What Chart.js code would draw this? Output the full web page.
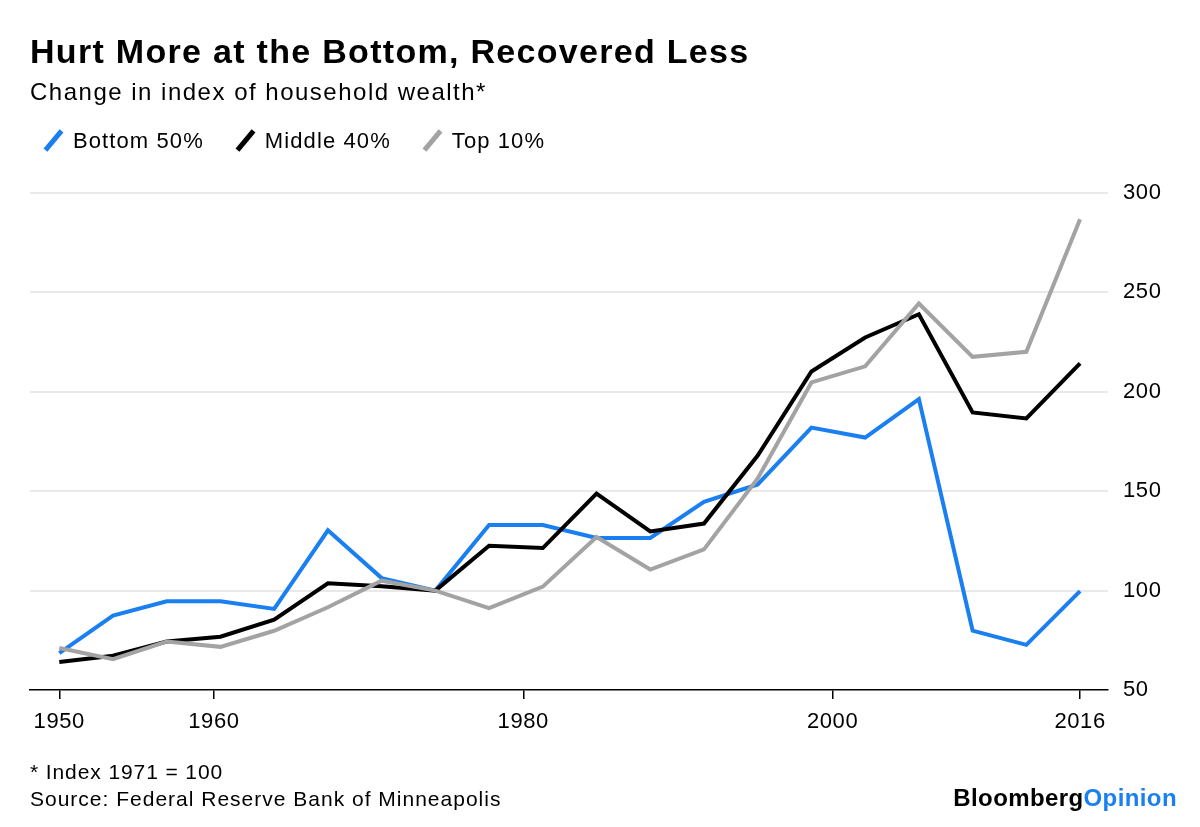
<!DOCTYPE html>
<html>
<head>
<meta charset="utf-8">
<script src="https://cdn.jsdelivr.net/npm/chart.js@4/dist/chart.umd.min.js"></script>
<style>
  body{margin:0;background:#fff;font-family:"Liberation Sans",Arial,sans-serif;color:#000;}
  #wrap{position:relative;width:1200px;height:827px;overflow:hidden;}
  #chart{position:absolute;left:0;top:0;}
  .txt{position:absolute;left:30px;white-space:nowrap;line-height:1;}
  #title{top:34px;font-size:34px;font-weight:bold;letter-spacing:1.3px;}
  #sub{top:80px;font-size:24px;letter-spacing:1.5px;}
  #legend{top:128px;font-size:22px;letter-spacing:1.1px;display:flex;}
  .item{display:flex;align-items:center;margin-right:18px;}
  .sw{display:inline-block;width:5px;height:25px;transform:rotate(40deg);margin:0 17px 0 21px;}
  #note{top:761px;font-size:21px;letter-spacing:0.9px;}
  #src{top:788px;font-size:21px;letter-spacing:1px;}
  #logo{position:absolute;right:23px;top:786px;font-size:24px;font-weight:bold;letter-spacing:0.4px;line-height:1;}
</style>
</head>
<body>
<div id="wrap">
  <canvas id="chart" width="1200" height="827"></canvas>
  <div class="txt" id="title">Hurt More at the Bottom, Recovered Less</div>
  <div class="txt" id="sub">Change in index of household wealth*</div>
  <div class="txt" id="legend"></div>
  <div class="txt" id="note">* Index 1971 = 100</div>
  <div class="txt" id="src">Source: Federal Reserve Bank of Minneapolis</div>
  <div id="logo">Bloomberg<span style="color:#1a7ff0">Opinion</span></div>
</div>
<script>
// survey years, plotted evenly spaced as in the original
const surveyYears = [1950,1953,1956,1959,1962,1965,1968,1971,1977,1983,1989,1992,1995,1998,2001,2004,2007,2010,2013,2016];

const bottom50 = [68.5,87.4,94.6,94.6,90.8,130.3,106.3,100,133,133,126.5,126.5,144.6,153.4,182,177,196.3,79.9,72.7,99.7];
const middle40 = [64.1,67.2,74.4,76.8,85.4,103.7,102.2,100,122.6,121.4,148.8,129.8,133.7,167.9,210.2,227.3,239,189.6,186.6,214.3];
const top10    = [71.1,65.5,74.4,71.7,79.8,91.6,105,100,91.2,102,127,110.6,120.7,156.4,204.7,212.8,244.4,217.6,220.1,286.8];

const seriesNames = ["Bottom 50%","Middle 40%","Top 10%"];
const seriesColors = ["#1a7ff0","#000000","#a3a3a3"];

const xTickYears = [1950,1960,1980,2000,2016];
const yTicks = [50,100,150,200,250,300];

// the time axis runs 1950..2016 across the same span as the points
const n = surveyYears.length;
function yearToIdx(y){
    return (y - xTickYears[0]) * (n - 1) / (xTickYears[xTickYears.length-1] - xTickYears[0]);
}

// html legend
const legend = document.getElementById("legend");
seriesNames.forEach((name,i)=>{
    const it = document.createElement("span");
    it.className = "item";
    it.innerHTML = '<span class="sw" style="background:'+seriesColors[i]+'"></span>'+name;
    legend.appendChild(it);
});

const allSeries = [bottom50, middle40, top10];

const tickFont = {family:"Liberation Sans", size:22};

// slightly wider digits, like the original typeface
const spacingPlugin = {
    id:"spacing",
    beforeInit(c){ c.ctx.letterSpacing = "0.6px"; },
    beforeDraw(c){ c.ctx.letterSpacing = "0.6px"; }
};

const chart = new Chart(document.getElementById("chart"), {
    type:"line",
    data:{
        datasets: allSeries.map((vals,i)=>({
            label: seriesNames[i],
            data: vals.map((v,j)=>({x:j, y:v})),
            borderColor: seriesColors[i],
            borderWidth: 4,
            pointRadius: 0,
            tension: 0,
            borderJoinStyle: "miter",
            order: 3 - i
        }))
    },
    plugins:[spacingPlugin],
    options:{
        responsive:false,
        animation:false,
        layout:{padding:{left:30, top:193, right:0, bottom:0}},
        plugins:{
            legend:{display:false},
            tooltip:{enabled:false}
        },
        scales:{
            x:{
                type:"linear",
                min:-0.545,
                max:19.52,
                afterBuildTicks:(scale)=>{
                    scale.ticks = xTickYears.map(y=>({value:yearToIdx(y)}));
                },
                afterFit:(scale)=>{ scale.height = 137; },
                ticks:{
                    color:"#000",
                    font:tickFont,
                    padding:10,
                    maxRotation:0,
                    autoSkip:false,
                    callback:(v,i)=>String(xTickYears[i])
                },
                grid:{
                    drawOnChartArea:false,
                    drawTicks:true,
                    tickLength:9,
                    color:"#000",
                    lineWidth:1.5
                },
                border:{display:true, color:"#000", width:1.5}
            },
            y:{
                position:"right",
                min:50,
                max:300,
                afterBuildTicks:(scale)=>{
                    scale.ticks = yTicks.map(v=>({value:v}));
                },
                afterFit:(scale)=>{ scale.width = 92; },
                ticks:{
                    color:"#000",
                    font:tickFont,
                    padding:15
                },
                grid:{
                    drawTicks:false,
                    color:(ctx)=> ctx.tick && ctx.tick.value === 50 ? "rgba(0,0,0,0)" : "#e9e9e9",
                    lineWidth:2
                },
                border:{display:false}
            }
        }
    }
});
</script>
</body>
</html>
